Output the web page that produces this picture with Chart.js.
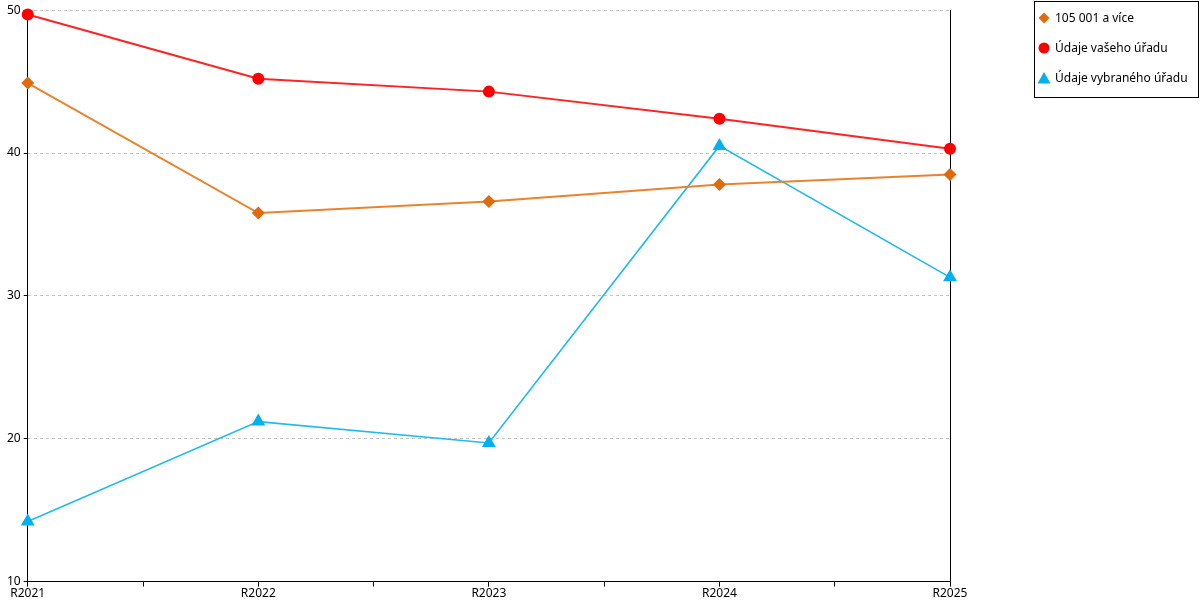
<!doctype html>
<html>
<head>
<meta charset="utf-8">
<title>Line chart</title>
<script src="https://cdn.jsdelivr.net/npm/chart.js@4.4.1/dist/chart.umd.min.js"></script>
<style>
  html, body { margin: 0; padding: 0; background: #fff; }
  #holder { width: 1200px; height: 600px; position: relative; }
</style>
</head>
<body>
<div id="holder"><canvas id="chart"></canvas></div>
<script>
// data
var years = ['R2021', 'R2022', 'R2023', 'R2024', 'R2025'];
var seriesNames = ['105 001 a více', 'Údaje vašeho úřadu', 'Údaje vybraného úřadu'];
var bandValues = [44.9, 35.8, 36.6, 37.8, 38.5];
var yourOffice = [49.7, 45.2, 44.3, 42.4, 40.3];
var selectedOffice = [14.2, 21.2, 19.7, 40.5, 31.3];
var yMin = 10, yMax = 50, yStep = 10;

var FONT = 'Noto Sans';

function points(values) {
  return values.map(function (v, i) { return { x: i, y: v }; });
}

// legend in a framed box at the top right
var boxLegend = {
  id: 'boxLegend',
  afterDraw: function (chart) {
    var ctx = chart.ctx;
    ctx.save();
    ctx.strokeStyle = '#000';
    ctx.lineWidth = 1;
    ctx.strokeRect(1034.5, 1.5, 164, 96);
    ctx.font = '12px "' + FONT + '"';
    ctx.textBaseline = 'middle';
    chart.data.datasets.forEach(function (ds, i) {
      var cy = 18 + i * 30, cx = 1044;
      ctx.fillStyle = ds.pointBackgroundColor;
      ctx.beginPath();
      if (ds.pointStyle === 'rectRot') {
        ctx.moveTo(cx, cy - 5.5); ctx.lineTo(cx + 5.5, cy); ctx.lineTo(cx, cy + 5.5); ctx.lineTo(cx - 5.5, cy);
      } else if (ds.pointStyle === 'triangle') {
        ctx.moveTo(cx, cy - 6); ctx.lineTo(cx + 6.5, cy + 5.5); ctx.lineTo(cx - 6.5, cy + 5.5);
      } else {
        ctx.arc(cx, cy, 5.5, 0, Math.PI * 2);
      }
      ctx.closePath();
      ctx.fill();
      ctx.fillStyle = '#000';
      ctx.fillText(ds.label, 1055, cy + 1);
    });
    ctx.restore();
  }
};

var config = {
  type: 'line',
  data: {
    datasets: [{
      label: seriesNames[0],
      data: points(bandValues),
      borderColor: '#e8832e',
      borderWidth: 2,
      pointStyle: 'rectRot',
      pointRadius: 6.5,
      pointBackgroundColor: '#e06a0c',
      pointBorderWidth: 0,
      clip: false
    }, {
      label: seriesNames[1],
      data: points(yourOffice),
      borderColor: '#ff2323',
      borderWidth: 2,
      pointStyle: 'circle',
      pointRadius: 6,
      pointBackgroundColor: '#ff0000',
      pointBorderWidth: 0,
      clip: false
    }, {
      label: seriesNames[2],
      data: points(selectedOffice),
      borderColor: '#1fbaf0',
      borderWidth: 1.6,
      pointStyle: 'triangle',
      pointRadius: 8,
      pointBackgroundColor: '#00b0f0',
      pointBorderWidth: 0,
      clip: false
    }]
  },
  options: {
    responsive: true,
    maintainAspectRatio: false,
    animation: false,
    layout: { padding: { top: 5, right: 250, left: 4, bottom: 0 } },
    plugins: {
      legend: { display: false },
      tooltip: { enabled: false }
    },
    elements: { line: { tension: 0 } },
    scales: {
      x: {
        type: 'linear',
        min: 0,
        max: years.length - 1,
        ticks: {
          stepSize: 0.5,
          autoSkip: false,
          maxRotation: 0,
          padding: -0.5,
          color: '#000',
          font: { family: FONT, size: 12 },
          callback: function (v) { return Number.isInteger(v) ? years[v] : ''; }
        },
        grid: { drawOnChartArea: false, tickLength: 5, tickColor: '#000', color: '#000' },
        border: { color: '#000', width: 1 }
      },
      y: {
        min: yMin,
        max: yMax,
        ticks: {
          stepSize: yStep,
          padding: 3,
          color: '#000',
          font: { family: FONT, size: 12 }
        },
        grid: { color: '#c4c4c4', tickColor: '#000', tickLength: 4 },
        border: { color: '#000', width: 1, dash: [3, 3] }
      },
      y2: {
        position: 'right',
        ticks: { display: false },
        grid: { drawOnChartArea: false, drawTicks: false },
        border: { color: '#000', width: 1 }
      }
    }
  },
  plugins: [boxLegend]
};

window.onload = function () {
  var ctx = document.getElementById('chart').getContext('2d');
  window.myLine = new Chart(ctx, config);
};
</script>
</body>
</html>
